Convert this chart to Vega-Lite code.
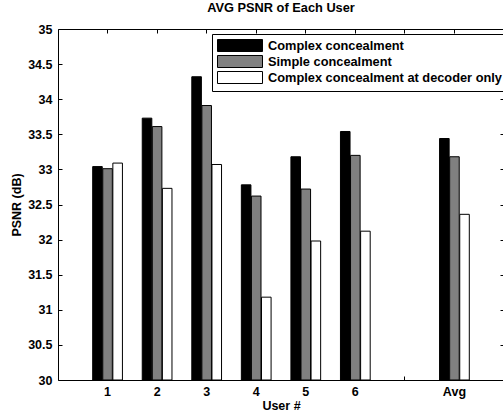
{
  "$schema": "https://vega.github.io/schema/vega-lite/v6.json",
  "width": 446,
  "height": 351,
  "autosize": {"type": "none"},
  "padding": {"left": 58, "top": 29, "right": 0, "bottom": 34},
  "background": "white",
  "title": {"text": "AVG PSNR of Each User", "fontSize": 12.8, "font": "Liberation Sans", "fontWeight": "bold", "color": "black", "offset": 8, "anchor": "middle"},
  "data": {"values": [
    {"user": "1", "method": "Complex concealment", "psnr": 33.04},
    {"user": "1", "method": "Simple concealment", "psnr": 33.01},
    {"user": "1", "method": "Complex concealment at decoder only", "psnr": 33.09},
    {"user": "2", "method": "Complex concealment", "psnr": 33.73},
    {"user": "2", "method": "Simple concealment", "psnr": 33.61},
    {"user": "2", "method": "Complex concealment at decoder only", "psnr": 32.73},
    {"user": "3", "method": "Complex concealment", "psnr": 34.32},
    {"user": "3", "method": "Simple concealment", "psnr": 33.91},
    {"user": "3", "method": "Complex concealment at decoder only", "psnr": 33.07},
    {"user": "4", "method": "Complex concealment", "psnr": 32.78},
    {"user": "4", "method": "Simple concealment", "psnr": 32.62},
    {"user": "4", "method": "Complex concealment at decoder only", "psnr": 31.18},
    {"user": "5", "method": "Complex concealment", "psnr": 33.18},
    {"user": "5", "method": "Simple concealment", "psnr": 32.72},
    {"user": "5", "method": "Complex concealment at decoder only", "psnr": 31.98},
    {"user": "6", "method": "Complex concealment", "psnr": 33.54},
    {"user": "6", "method": "Simple concealment", "psnr": 33.2},
    {"user": "6", "method": "Complex concealment at decoder only", "psnr": 32.12},
    {"user": "Avg", "method": "Complex concealment", "psnr": 33.44},
    {"user": "Avg", "method": "Simple concealment", "psnr": 33.18},
    {"user": "Avg", "method": "Complex concealment at decoder only", "psnr": 32.36}
  ]},
  "layer": [
    {
      "mark": {"type": "bar", "stroke": "black", "strokeWidth": 1, "clip": true},
      "encoding": {
        "x": {"field": "user", "type": "nominal", "sort": null,
          "scale": {"domain": ["1", "2", "3", "4", "5", "6", "7", "Avg"], "paddingInner": 0.4, "paddingOuter": 0.7},
          "axis": {"orient": "bottom", "title": "User #", "labelAngle": 0, "tickSize": -4, "labelPadding": 9, "titlePadding": 2,
            "labelExpr": "datum.label == '7' ? '' : datum.label"}},
        "xOffset": {"field": "method", "type": "nominal", "sort": null,
          "scale": {"domain": ["Complex concealment", "Simple concealment", "Complex concealment at decoder only"], "paddingInner": 0.05, "paddingOuter": 0}},
        "y": {"field": "psnr", "type": "quantitative",
          "scale": {"domain": [30, 35], "zero": false, "nice": false},
          "axis": {"orient": "left", "title": "PSNR (dB)", "values": [30, 30.5, 31, 31.5, 32, 32.5, 33, 33.5, 34, 34.5, 35], "format": "~g", "tickSize": -4, "labelPadding": 10, "titlePadding": 4}},
        "y2": {"datum": 30},
        "fill": {"field": "method", "type": "nominal", "sort": null,
          "scale": {"domain": ["Complex concealment", "Simple concealment", "Complex concealment at decoder only"], "range": ["#000000", "#808080", "#ffffff"]},
          "legend": {"title": null, "orient": "none", "legendX": 154, "legendY": 5,
            "strokeColor": "black", "fillColor": "white", "padding": 5, "rowPadding": -1,
            "symbolType": "M-3.75,-1H3.75V1H-3.75Z", "symbolSize": 144, "symbolOffset": 16.5, "labelOffset": 21.5,
            "symbolStrokeColor": "black", "symbolStrokeWidth": 1, "symbolOpacity": 1,
            "labelFont": "Liberation Sans", "labelFontWeight": "bold", "labelFontSize": 12.8, "labelColor": "black", "labelLimit": 0}}
      }
    },
    {
      "mark": {"type": "bar", "opacity": 0},
      "encoding": {
        "x": {"field": "user", "type": "nominal", "sort": null,
          "scale": {"domain": ["1", "2", "3", "4", "5", "6", "7", "Avg"], "paddingInner": 0.4, "paddingOuter": 0.7},
          "axis": {"orient": "top", "title": null, "labels": false, "tickSize": -4}},
        "xOffset": {"field": "method", "type": "nominal", "sort": null},
        "y": {"field": "psnr", "type": "quantitative",
          "scale": {"domain": [30, 35], "zero": false, "nice": false},
          "axis": {"orient": "right", "title": null, "labels": false, "values": [30, 30.5, 31, 31.5, 32, 32.5, 33, 33.5, 34, 34.5, 35], "tickSize": -4}},
        "y2": {"datum": 30}
      }
    }
  ],
  "resolve": {"axis": {"x": "independent", "y": "independent"}},
  "config": {
    "view": {"stroke": null},
    "axis": {
      "grid": false, "domainColor": "black", "domainWidth": 1, "tickColor": "black", "tickWidth": 1,
      "labelFont": "Liberation Sans", "labelFontWeight": "bold", "labelFontSize": 12.5, "labelColor": "black",
      "titleFont": "Liberation Sans", "titleFontWeight": "bold", "titleFontSize": 12.5, "titleColor": "black"
    }
  }
}
